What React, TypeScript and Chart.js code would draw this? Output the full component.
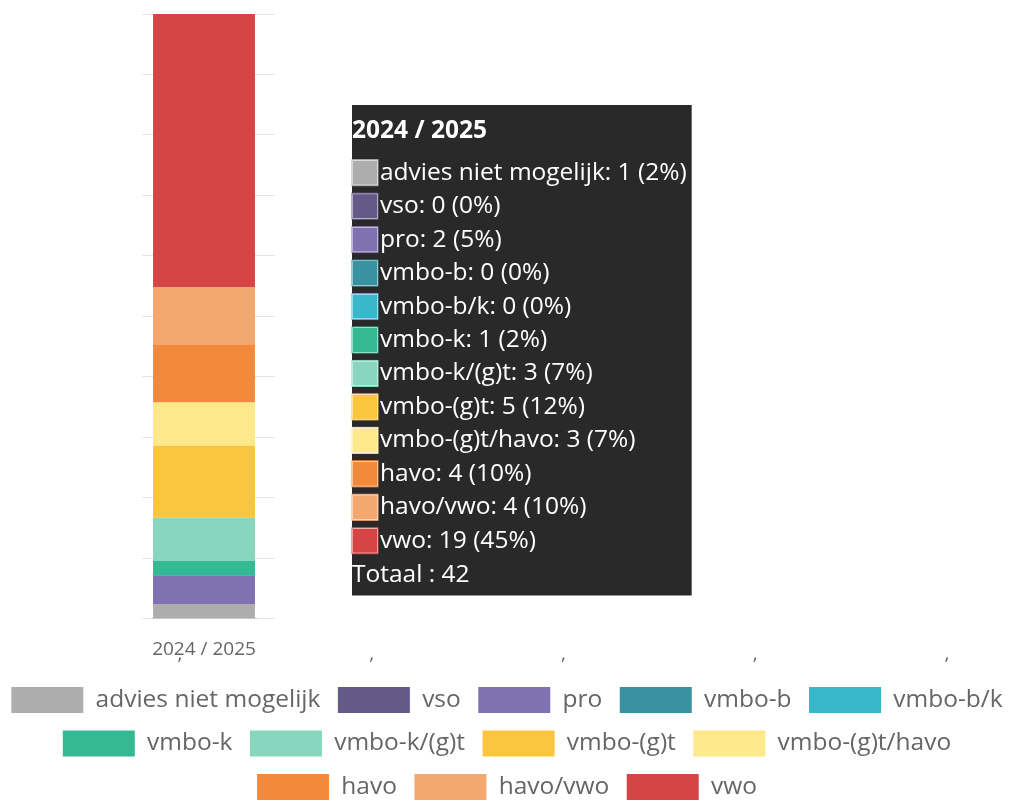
import React, { useEffect, useRef } from "react";
import { Chart, registerables, Tooltip } from "chart.js";

Chart.register(...registerables);

const categories = ["2024 / 2025"];
const seriesNames = [
  "advies niet mogelijk",
  "vso",
  "pro",
  "vmbo-b",
  "vmbo-b/k",
  "vmbo-k",
  "vmbo-k/(g)t",
  "vmbo-(g)t",
  "vmbo-(g)t/havo",
  "havo",
  "havo/vwo",
  "vwo",
];
const seriesCounts = [1, 0, 2, 0, 0, 1, 3, 5, 3, 4, 4, 19];
const seriesColors = [
  "#adadad",
  "#645a87",
  "#8071b0",
  "#3892a0",
  "#38b8ca",
  "#33b994",
  "#88d6bd",
  "#fbc53d",
  "#fde98a",
  "#f28a3c",
  "#f4a870",
  "#d64545",
];
const axisMarks = [",", ",", ",", ",", ","];
const totalLabel = "Totaal";
const yMax = 100;
const yStep = 10;

const FONT = "'Open Sans', sans-serif";

(Tooltip.positioners as any).fixedTopLeft = function () {
  return { x: 370, y: 105 };
};

export default function App() {
  const canvasRef = useRef<HTMLCanvasElement | null>(null);

  useEffect(() => {
    if (!canvasRef.current) return;
    const total = seriesCounts.reduce((a, b) => a + b, 0);
    const datasets = seriesNames.map((name, i) => ({
      label: name,
      data: [(seriesCounts[i] / total) * 100],
      backgroundColor: seriesColors[i],
      hoverBackgroundColor: seriesColors[i],
      borderWidth: 0,
      barPercentage: 0.98,
      categoryPercentage: 1,
    }));

    const commaPlugin = {
      id: "commaMarks",
      afterDraw(chart: any) {
        const ctx = chart.ctx;
        ctx.save();
        ctx.fillStyle = "#666";
        ctx.font = `19px ${FONT}`;
        ctx.textAlign = "center";
        ctx.textBaseline = "middle";
        axisMarks.forEach((m, i) => {
          ctx.fillText(m, 198 + i * 191.75, 655);
        });
        ctx.restore();
      },
    };

    const chart = new Chart(canvasRef.current, {
      type: "bar",
      data: { labels: categories, datasets },
      plugins: [commaPlugin],
      options: {
        responsive: true,
        maintainAspectRatio: false,
        animation: false,
        events: [],
        layout: { padding: { top: 14, left: 0, right: 0, bottom: 0 } },
        font: { family: FONT },
        scales: {
          x: {
            stacked: true,
            grid: { display: false },
            border: { display: true, color: "rgba(0,0,0,0.12)" },
            ticks: { color: "#666", font: { family: FONT, size: 19 }, padding: 12 },
            afterFit: (scale: any) => {
              scale.height = 51;
            },
          },
          y: {
            stacked: true,
            min: 0,
            max: yMax,
            ticks: { display: false, stepSize: yStep },
            grid: { color: "rgba(0,0,0,0.1)", drawTicks: true, tickLength: 10 },
            border: { display: false },
            afterFit: (scale: any) => {
              scale.width = 170;
            },
          },
          y2: {
            position: "right",
            min: 0,
            max: yMax,
            ticks: { display: false, stepSize: yStep },
            grid: {
              color: "rgba(0,0,0,0.1)",
              drawOnChartArea: false,
              drawTicks: true,
              tickLength: 19,
            },
            border: { display: false },
            afterFit: (scale: any) => {
              scale.width = 776;
            },
          },
        },
        plugins: {
          legend: {
            position: "bottom",
            labels: {
              boxWidth: 72,
              boxHeight: 26,
              padding: 17.5,
              color: "#666",
              font: { family: FONT, size: 24.5 },
            },
          },
          tooltip: {
            enabled: true,
            mode: "index",
            intersect: false,
            position: "fixedTopLeft" as any,
            xAlign: "left",
            yAlign: "top",
            caretSize: 0,
            caretPadding: 0,
            cornerRadius: 0,
            backgroundColor: "rgba(0,0,0,0.84)",
            padding: { top: 13, left: 0, right: 5, bottom: 7 },
            titleColor: "#fff",
            titleFont: { family: FONT, size: 24.5, weight: "bold", lineHeight: 1.08 },
            titleMarginBottom: 15,
            bodyColor: "#fff",
            bodyFont: { family: FONT, size: 24.5, lineHeight: 1.08 },
            bodySpacing: 7,
            footerColor: "#fff",
            footerFont: { family: FONT, size: 24.5, weight: "normal", lineHeight: 1.08 },
            footerMarginTop: 8,
            boxWidth: 26,
            boxHeight: 26,
            displayColors: true,
            callbacks: {
              label: (ctx: any) => {
                const c = seriesCounts[ctx.datasetIndex];
                return `${ctx.dataset.label}: ${c} (${Math.round((c / total) * 100)}%)`;
              },
              labelColor: (ctx: any) => ({
                borderColor: seriesColors[ctx.datasetIndex],
                backgroundColor: seriesColors[ctx.datasetIndex],
                borderWidth: 1,
              }),
              footer: () => `${totalLabel} : ${total}`,
            },
          },
        },
      } as any,
    });

    const active = datasets.map((_, i) => ({ datasetIndex: i, index: 0 }));
    chart.tooltip!.setActiveElements(active, { x: 0, y: 0 });
    chart.update();

    return () => chart.destroy();
  }, []);

  return (
    <div
      style={{
        position: "fixed",
        left: 0,
        top: 0,
        width: 1014,
        height: 801,
        overflow: "hidden",
        background: "#fff",
      }}
    >
      <div style={{ position: "absolute", left: -18, top: 0, width: 1050, height: 810 }}>
        <canvas ref={canvasRef} />
      </div>
    </div>
  );
}
